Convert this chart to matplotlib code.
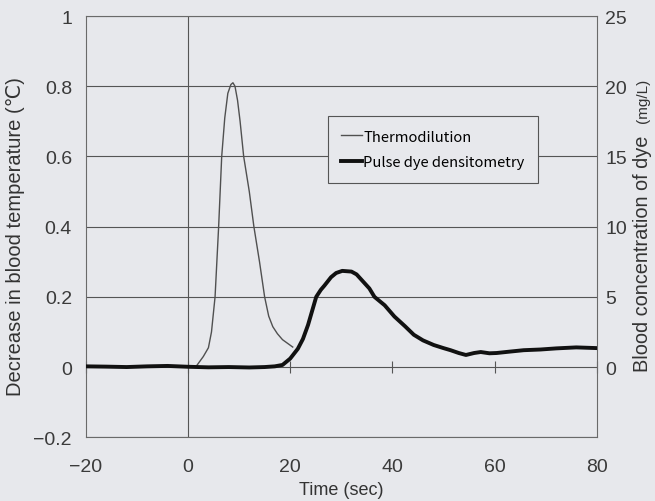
import matplotlib.pyplot as plt

plt.rcParams['font.family'] = ['Liberation Sans', 'DejaVu Sans']
plt.rcParams['axes.unicode_minus'] = True

# Thermodilution curve (decrease in blood temperature, degC)
thermo_t = [1.5, 3.0, 4.0, 4.6, 5.3, 6.0, 6.6, 7.2, 7.8, 8.4, 8.8, 9.2, 9.7,
            10.2, 10.9, 12.0, 12.9, 14.0, 15.0, 15.8, 16.6, 17.5, 18.5, 20.5]
thermo_v = [0.0, 0.03, 0.055, 0.1, 0.2, 0.4, 0.6, 0.71, 0.78, 0.805, 0.81, 0.8, 0.76,
            0.7, 0.6, 0.5, 0.4, 0.3, 0.2, 0.145, 0.115, 0.095, 0.078, 0.057]

# Pulse dye densitometry (blood concentration of dye, mg/L)
dye_t = [-20, -16, -12, -8, -4, 0, 4, 8, 12, 15, 17, 18.5, 20, 21.5, 22.5,
         23.5, 24.3, 25.1, 26, 26.7, 28, 29, 30.2, 32, 33, 34.5, 35.5, 36.5,
         38.5, 40.4, 42.5, 44.2, 46, 48.1, 50, 51.4, 53, 54.4, 56, 57.3, 59,
         60.4, 63, 65.7, 69, 72.1, 76, 80]
dye_v = [0.05, 0.03, 0.0, 0.05, 0.08, 0.02, -0.02, 0.0, -0.03, 0.0, 0.05,
         0.15, 0.6, 1.3, 2.0, 3.0, 4.0, 5.0, 5.5, 5.8, 6.4, 6.7, 6.85, 6.8,
         6.6, 6.0, 5.6, 5.0, 4.4, 3.6, 2.9, 2.3, 1.9, 1.57, 1.35, 1.2, 1.0,
         0.86, 1.0, 1.07, 0.98, 1.0, 1.1, 1.2, 1.25, 1.33, 1.4, 1.35]

xticks = [-20, 0, 20, 40, 60, 80]
left_ticks = [-0.2, 0, 0.2, 0.4, 0.6, 0.8, 1]
left_labels = ['\u22120.2', '0', '0.2', '0.4', '0.6', '0.8', '1']
right_ticks = [0, 5, 10, 15, 20, 25]

bg = '#e7e8ec'
fig = plt.figure(figsize=(6.55, 5.02), dpi=100, facecolor=bg)
ax = fig.add_axes([0.131, 0.127, 0.78, 0.839])
ax.set_facecolor(bg)

ax.set_xlim(-20, 80)
ax.set_ylim(-0.2, 1.0)
ax.set_yticks(left_ticks)
ax.set_yticklabels(left_labels)
ax.set_xticks(xticks)
ax.tick_params(axis='both', length=0, labelsize=14, colors='#3a3a3a')
ax.tick_params(axis='x', pad=15)
ax.tick_params(axis='y', pad=10)
ax.grid(axis='y', color='#555555', linewidth=0.8)
ax.axvline(0, color='#555555', linewidth=0.8)
for s in ax.spines.values():
    s.set_color('#6a6a6a')
    s.set_linewidth(0.8)

# x axis crossing at zero, with small ticks
sec = ax.secondary_xaxis(0.2 / 1.2)
sec.set_xticks(xticks)
sec.tick_params(direction='inout', length=8, width=0.8, color='#555555', labelbottom=False)
sec.spines['bottom'].set_visible(False)

l1, = ax.plot(thermo_t, thermo_v, color='#505050', linewidth=1.0, label='Thermodilution')

ax2 = ax.twinx()
ax2.set_ylim(-5, 25)
ax2.set_yticks(right_ticks)
ax2.tick_params(axis='y', length=0, labelsize=14, colors='#3a3a3a', pad=6)
for s in ax2.spines.values():
    s.set_visible(False)
l2, = ax2.plot(dye_t, dye_v, color='#111111', linewidth=2.8, label='Pulse dye densitometry')

ax.set_xlabel('Time (sec)', fontsize=13, color='#333333', labelpad=4)
ax.set_ylabel('Decrease in blood temperature (\u2103)', fontsize=14.5, color='#333333')
ax.yaxis.set_label_coords(-0.119, 0.479)
fig.text(0.981, 0.494, 'Blood concentration of dye', rotation=90, fontsize=14.4,
         color='#333333', ha='center', va='center')
fig.text(0.982, 0.80, '(mg/L)', rotation=90, fontsize=11,
         color='#333333', ha='center', va='center')

leg = ax.legend(handles=[l1, l2], loc='upper left', bbox_to_anchor=(0.474, 0.762),
                prop={'family': ['Noto Sans CJK JP', 'DejaVu Sans'], 'size': 10.6},
                fancybox=False, framealpha=1, facecolor=bg, edgecolor='#555555',
                handlelength=1.4, handletextpad=0.1, labelspacing=0.8,
                borderpad=0.9, borderaxespad=0)
leg.get_frame().set_linewidth(0.8)
leg.set_zorder(5)

fig.savefig('out.png', dpi=100, facecolor=bg)
